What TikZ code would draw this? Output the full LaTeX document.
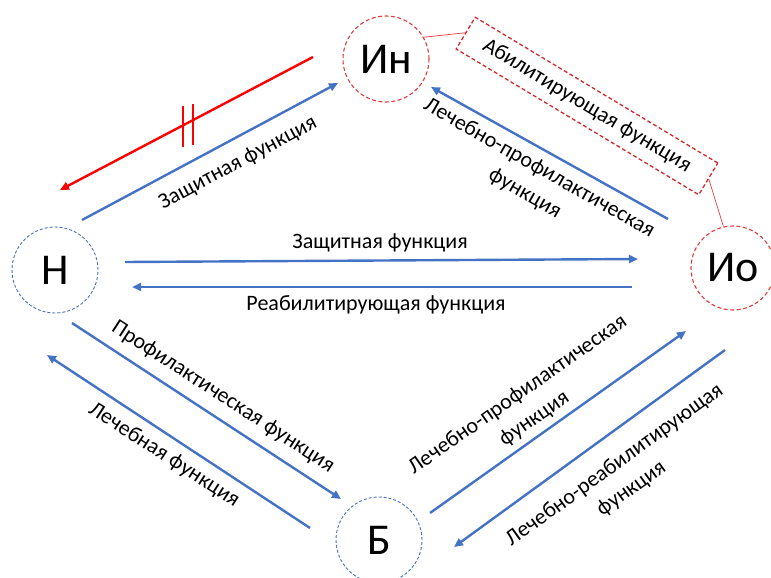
\documentclass[tikz,border=0pt]{standalone}
\usepackage{fontspec}
\setmainfont{Carlito}
\usetikzlibrary{arrows.meta}
\definecolor{obl}{HTML}{4472C4}
\definecolor{ored}{HTML}{E03C3C}
\definecolor{bred}{HTML}{D42A2A}
\definecolor{pured}{HTML}{FF0000}
\tikzset{
  bluecirc/.style={circle, draw=obl, dashed, line width=0.9pt, dash pattern=on 3pt off 2pt, minimum size=86pt, inner sep=0pt, font=\fontsize{44}{50}\selectfont},
  redcirc/.style={circle, draw=ored, dashed, line width=1.1pt, dash pattern=on 4pt off 2.5pt, minimum size=86pt, inner sep=0pt, font=\fontsize{44}{50}\selectfont},
  barrow/.style={draw=obl, line width=2.4pt, -{Triangle[length=9pt,width=8pt]}},
  lbl/.style={font=\fontsize{22}{29}\selectfont, align=center, inner sep=0pt},
  thinred/.style={draw=ored, line width=0.7pt},
  tickline/.style={draw=pured, line width=1.1pt},
}
\begin{document}
\begin{tikzpicture}[x=1pt,y=-1pt]
\useasboundingbox (0,0) rectangle (771,578);
% nodes
\node[redcirc] (In) at (386,59) {Ин};
\node[bluecirc] (N) at (55,270) {Н};
\node[redcirc, minimum size=84pt] (Io) at (733,268) {Ио};
\node[bluecirc] (B) at (379,540) {Б};
\node[draw=bred, dashed, dash pattern=on 4pt off 2.5pt, line width=1.3pt, rotate=-31, minimum width=283pt, minimum height=37pt, inner sep=0pt, font=\fontsize{22}{29}\selectfont] (Ab) at (587,106) {Абилитирующая функция};
% connectors of box
\draw[thinred] (In.30) -- (Ab.west);
\draw[thinred] (Ab.east) -- (Io.103);
% arrow endpoints
\coordinate (a1s) at (82,220); \coordinate (a1e) at (338,83);
\coordinate (r1s) at (313,57); \coordinate (r1e) at (60,190);
\coordinate (a2s) at (668,219); \coordinate (a2e) at (431,87);
\coordinate (a3s) at (125,262); \coordinate (a3e) at (638,259);
\coordinate (a4s) at (632,287); \coordinate (a4e) at (132,287);
\coordinate (a5s) at (72,323); \coordinate (a5e) at (341,499);
\coordinate (a6s) at (310,528); \coordinate (a6e) at (47,355);
\coordinate (a7s) at (430,513); \coordinate (a7e) at (686,331);
\coordinate (a8s) at (725,350); \coordinate (a8e) at (454,547);
\draw[barrow] (a1s) -- (a1e);
\draw[draw=pured, line width=2.4pt, -{Triangle[length=9pt,width=8pt]}] (r1s) -- (r1e);
\coordinate (t1s) at (183,106); \coordinate (t1e) at (183,147);
\coordinate (t2s) at (193,104); \coordinate (t2e) at (193,145);
\draw[tickline] (t1s) -- (t1e);
\draw[tickline] (t2s) -- (t2e);
\draw[barrow] (a2s) -- (a2e);
\draw[barrow] (a3s) -- (a3e);
\draw[barrow] (a4s) -- (a4e);
\draw[barrow] (a5s) -- (a5e);
\draw[barrow] (a6s) -- (a6e);
\draw[barrow] (a7s) -- (a7e);
\draw[barrow] (a8s) -- (a8e);
% labels
\node[lbl, rotate=28] (l1) at (238,163) {Защитная функция};
\node[lbl, rotate=-29.5] (l2) at (532,181) {Лечебно-профилактическая\\функция};
\node[lbl] (l3) at (380,243) {Защитная функция};
\node[lbl] (l4) at (376,305) {Реабилитирующая функция};
\node[lbl, rotate=-33] (l5) at (223,397) {Профилактическая функция};
\node[lbl, rotate=-33] (l6) at (164,455) {Лечебная функция};
\node[lbl, rotate=35] (l7) at (526,407) {Лечебно-профилактическая\\функция};
\node[lbl, rotate=35.8] (l8) at (623,477) {Лечебно-реабилитирующая\\функция};
\end{tikzpicture}
\end{document}
